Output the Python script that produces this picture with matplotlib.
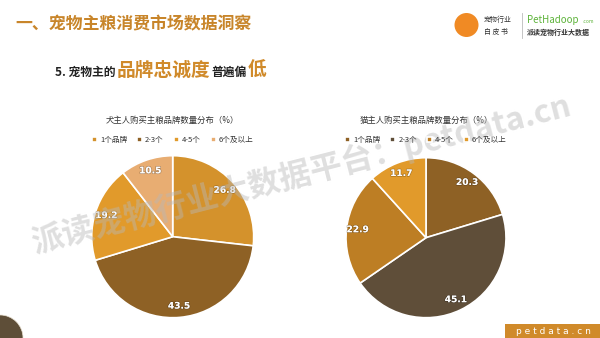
import matplotlib
matplotlib.use("Agg")
import matplotlib.pyplot as plt
import numpy as np
from matplotlib.patches import Rectangle, Ellipse
import matplotlib.patheffects as pe

plt.rcParams['font.family'] = ['Noto Sans CJK SC', 'DejaVu Sans']

categories = ["1个品牌", "2-3个", "4-5个", "6个及以上"]
dog_values = [26.8, 43.5, 19.2, 10.5]
cat_values = [20.3, 45.1, 22.9, 11.7]
dog_title = "犬主人购买主粮品牌数量分布（%）"
cat_title = "猫主人购买主粮品牌数量分布（%）"
dog_colors = ["#D4922C", "#8E6125", "#E19A2B", "#E8AD72"]
cat_colors = ["#8E6125", "#5F4E39", "#BD7E24", "#E19A2B"]

W, H = 600, 338
fig = plt.figure(figsize=(6, 3.38), dpi=100)
fig.patch.set_facecolor("white")

def fx(px): return px / W
def fy(py): return 1 - py / H

# Header
fig.text(fx(15), fy(24), "一、宠物主粮消费市场数据洞察", fontsize=12.2, fontweight="bold",
         color="#C8852A", va="center", ha="left")

# Subtitle built from pieces
renderer = fig.canvas.get_renderer()
pieces = [("5. 宠物主的", 8.5, "#222222", "bold"),
          ("品牌忠诚度", 13.5, "#D08A2A", "bold"),
          ("普遍偏", 8.5, "#222222", "bold"),
          ("低", 13.5, "#D08A2A", "bold")]
x = fx(55)
for txt, fs, col, fw in pieces:
    t = fig.text(x, fy(76), txt, fontsize=fs, color=col, fontweight=fw, va="baseline", ha="left")
    bb = t.get_window_extent(renderer)
    x += bb.width / W + 0.002

# Logo
fig.patches.append(Ellipse((fx(466.5), fy(25)), 24 / W, 24 / H, transform=fig.transFigure,
                           facecolor="#F08A24", edgecolor="none"))
fig.text(fx(484), fy(20), "宠物行业", fontsize=5, color="#333333", va="center", ha="left")
fig.text(fx(484), fy(32), "白 皮 书", fontsize=5, color="#333333", va="center", ha="left")
fig.add_artist(plt.Line2D([fx(522), fx(522)], [fy(13), fy(38)], color="#BBBBBB", lw=0.6))
fig.text(fx(527), fy(20), "PetHadoop", fontsize=7, color="#5DB33A", va="center", ha="left")
fig.text(fx(583), fy(21.5), ".com", fontsize=3.5, color="#5DB33A", va="center", ha="left")
fig.text(fx(527), fy(32), "派读宠物行业大数据", fontsize=5, color="#333333", va="center", ha="left",
         fontweight="bold")

# Bottom-left decorative circle
fig.patches.append(Ellipse((0, 0), 46 / W, 46 / H, transform=fig.transFigure,
                           facecolor="#5E4E38", edgecolor="#E8E0D0", lw=0.5))

# Bottom-right box
fig.patches.append(Rectangle((fx(505), 0), fx(95), 14 / H, transform=fig.transFigure,
                             facecolor="#D08A2A", edgecolor="none"))
fig.text(fx(553), fy(331), "p e t d a t a . c n", fontsize=6.5, color="white",
         va="center", ha="center", fontfamily="DejaVu Sans")


def draw_pie(cx, cy, r, values, colors, title, title_y, legend_y):
    ax = fig.add_axes([fx(cx - r), fy(cy + r), 2 * r / W, 2 * r / H])
    wedges, _ = ax.pie(values, colors=colors, startangle=90, counterclock=False,
                       wedgeprops=dict(edgecolor="white", linewidth=1.2))
    for w, v in zip(wedges, values):
        ang = np.deg2rad((w.theta1 + w.theta2) / 2)
        d = 0.86
        ax.text(d * np.cos(ang), d * np.sin(ang), f"{v:.1f}", ha="center", va="center",
                fontsize=6.5, fontweight="bold", color="white", fontfamily="DejaVu Sans",
                path_effects=[pe.withStroke(linewidth=1.0, foreground="#00000040")])
    ax.set_xlim(-1, 1)
    ax.set_ylim(-1, 1)
    ax.set_aspect("equal")
    ax.axis("off")
    fig.text(fx(cx), fy(title_y), title, fontsize=6, color="#333333", ha="center", va="center")
    fig.legend(wedges, categories, loc="center", bbox_to_anchor=(fx(cx), fy(legend_y)),
               ncol=4, frameon=False, fontsize=5.5, handlelength=0.65, handleheight=0.65,
               handletextpad=0.4, columnspacing=1.3, labelcolor="#333333")
    return ax

draw_pie(172.7, 236.7, 81, dog_values, dog_colors, dog_title, 120, 140)
draw_pie(426, 237.7, 80, cat_values, cat_colors, cat_title, 120, 140)

# Watermark
fig.text(fx(301), fy(174), "派读宠物行业大数据平台：petdata.cn", fontsize=23, fontweight="bold",
         color="#B8B8B8", alpha=0.45, rotation=14.4, ha="center", va="center",
         rotation_mode="anchor")

fig.savefig("out.png", dpi=100)
